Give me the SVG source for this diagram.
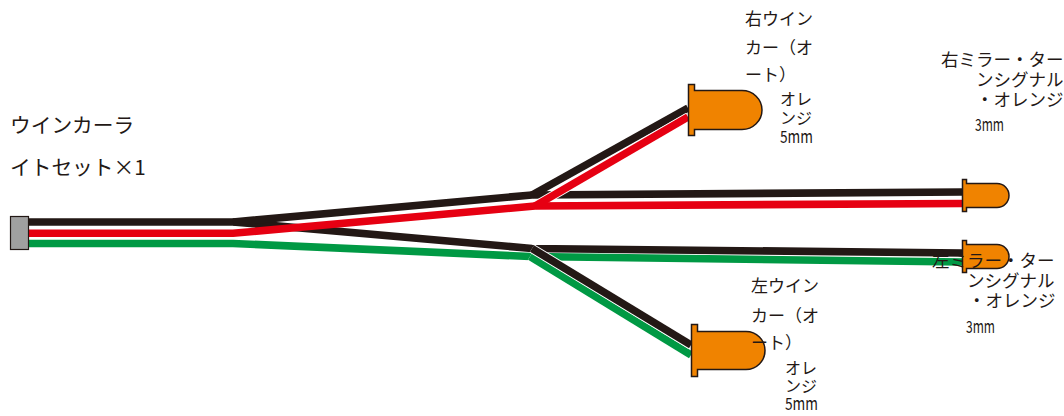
<svg xmlns="http://www.w3.org/2000/svg" width="1064" height="416" viewBox="0 0 1064 416">
<style>
.w{fill:none;stroke-width:7.600;stroke-linejoin:bevel}
.h{fill:none;stroke:#fff;stroke-width:9.500;stroke-linejoin:bevel}
.k{stroke:#231815}.r{stroke:#e60012}.g{stroke:#009944}
.led{fill:#f08300;stroke:#231815;stroke-width:1.5}
text{font-family:"Noto Sans CJK JP","Noto Sans",sans-serif;fill:#231815}
.a{font-size:20.700px}.b{font-size:17px}.c{font-size:17.500px}.d{font-size:16px}
.m{font-size:17px}
</style>
<rect width="1064" height="416" fill="#fff"/>
<g id="connectors">
<path class="w g" d="M29 243.500H233L530 256.500L962 262"/>
<path class="h" d="M530 256.500L691 355"/>
<path class="w g" d="M530 256.500L691 355"/>
<path class="w k" d="M29 222H233L532 248.500L962 253"/>
<path class="h" d="M532 248.500L691 345"/>
<path class="w k" d="M532 248.500L691 345"/>
<path class="w k" d="M233 222L532 195L962 192"/>
<path class="w k" d="M532 195L688 108"/>
<path class="h" d="M535 206L688 117"/>
<path class="w r" d="M29 233.300H233L535 206L962 203.500"/>
<path class="w r" d="M535 206L688 117"/>
</g>
<g id="connector-plug"><rect x="10.500" y="216.500" width="18" height="33" fill="#a0a0a0" stroke="#231815" stroke-width="1.200"/></g>
<g id="led-right-turn"><path class="led" d="M688.500 84.500H694.500V90.500H742A20 19.500 0 0 1 742 129.500H694.500V135.500H688.500Z"/></g>
<g id="led-right-mirror"><path class="led" d="M962.500 179.500H966.500V183.500H997A12 12 0 0 1 997 207.500H966.500V211.500H962.500Z"/></g>
<g id="led-left-mirror"><path class="led" d="M962.500 240.500H966.500V244.500H997A12 12 0 0 1 997 268.500H966.500V272.500H962.500Z"/></g>
<g id="led-left-turn"><path class="led" d="M691.500 324.500H697.500V331.500H746A19 19 0 0 1 746 369.500H697.500V376.500H691.500Z"/></g>
<g id="label-main">
<text class="a" x="10" y="133">ウインカーラ</text>
<text class="a" x="10" y="175">イトセット×1</text>
</g>
<g id="label-right-turn">
<text class="b" x="745" y="25">右ウイン</text>
<text class="b" x="745" y="54">カー（オ</text>
<text class="b" x="745" y="81">ート）</text>
<text class="d" x="780" y="105">オレ</text>
<text class="d" x="780" y="124">ンジ</text>
<text class="m" x="780" y="143" textLength="33" lengthAdjust="spacingAndGlyphs">5mm</text>
</g>
<g id="label-right-mirror">
<text class="c" x="941" y="66">右ミラー・ター</text>
<text class="c" x="976" y="86">ンシグナル</text>
<text class="c" x="976" y="106">・オレンジ</text>
<text class="m" x="975" y="131" textLength="29" lengthAdjust="spacingAndGlyphs">3mm</text>
</g>
<g id="label-left-mirror">
<text class="c" x="932" y="267">左ミラー・ター</text>
<text class="c" x="967" y="287">ンシグナル</text>
<text class="c" x="968" y="307">・オレンジ</text>
<text class="m" x="966" y="333" textLength="29" lengthAdjust="spacingAndGlyphs">3mm</text>
</g>
<g id="label-left-turn">
<text class="b" x="751" y="292">左ウイン</text>
<text class="b" x="751" y="322">カー（オ</text>
<text class="b" x="751" y="349">ート）</text>
<text class="d" x="785" y="374">オレ</text>
<text class="d" x="785" y="392">ンジ</text>
<text class="m" x="785" y="410" textLength="33" lengthAdjust="spacingAndGlyphs">5mm</text>
</g>
</svg>
